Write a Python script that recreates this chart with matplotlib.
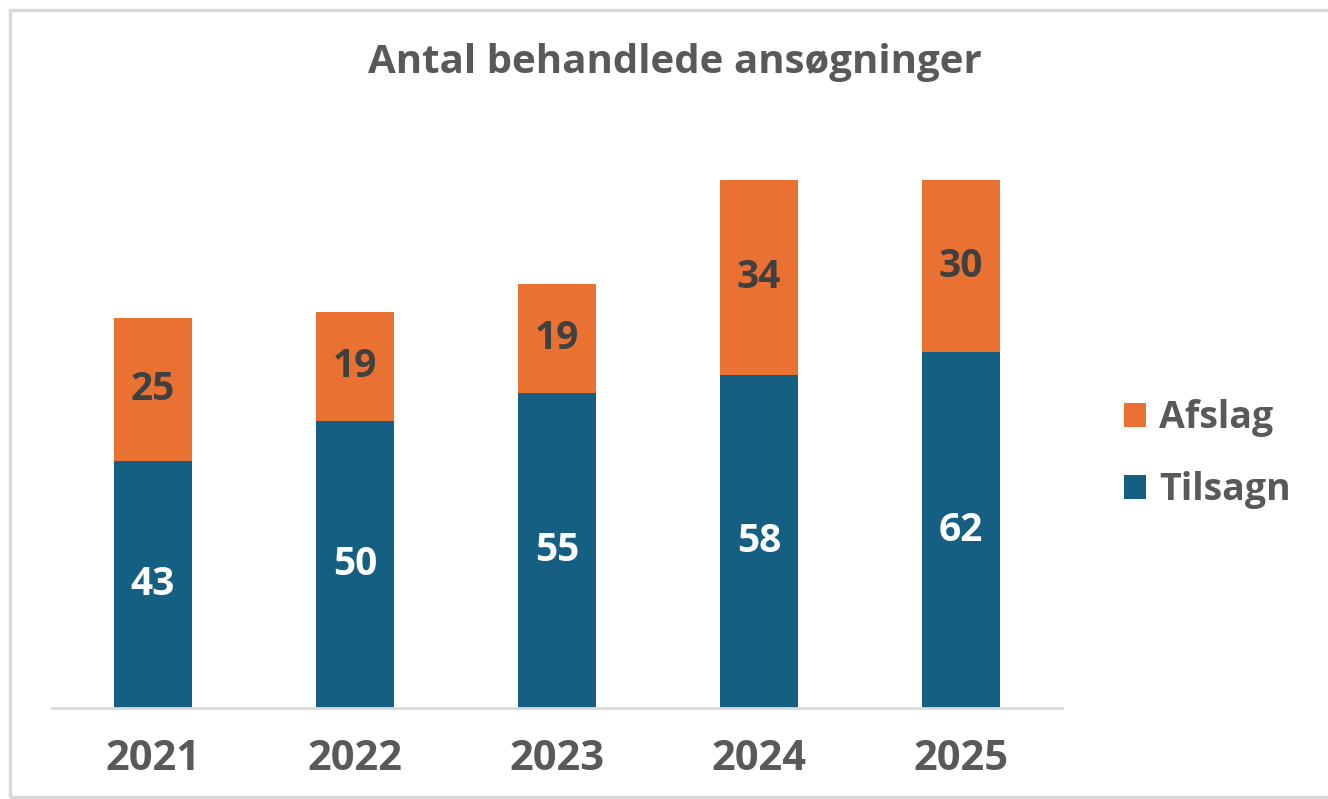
import matplotlib
matplotlib.use('Agg')
import matplotlib.pyplot as plt
import numpy as np
from matplotlib.patches import Rectangle

# Data
years = ['2021', '2022', '2023', '2024', '2025']
tilsagn = [43, 50, 55, 58, 62]
afslag = [25, 19, 19, 34, 30]

BLUE = '#156082'
ORANGE = '#E97132'
TEXT = '#595959'

plt.rcParams['font.family'] = ['Open Sans', 'DejaVu Sans']

fig = plt.figure(figsize=(13.28, 7.99), dpi=100)
ax = fig.add_axes([52 / 1328, 91 / 799, 1010 / 1328, 573.5 / 799])

x = np.arange(len(years))
width = 0.39
b1 = ax.bar(x, tilsagn, width, color=BLUE, label='Tilsagn')
b2 = ax.bar(x, afslag, width, bottom=tilsagn, color=ORANGE, label='Afslag')

# value labels centred in each segment
for i in range(len(years)):
    ax.text(x[i], tilsagn[i] / 2, str(tilsagn[i]), ha='center', va='center',
            color='white', fontsize=28, fontweight='bold')
    ax.text(x[i], tilsagn[i] + afslag[i] / 2, str(afslag[i]), ha='center', va='center',
            color='#404040', fontsize=28, fontweight='bold')

ax.set_xlim(-0.5, 4.5)
ax.set_ylim(0, 100)
ax.set_xticks(x)
ax.set_xticklabels(years, fontsize=30, fontweight='bold', color=TEXT)
ax.tick_params(axis='x', length=0, pad=22)
ax.set_yticks([])
for s in ['top', 'right', 'left']:
    ax.spines[s].set_visible(False)
ax.spines['bottom'].set_color('#D9D9D9')
ax.spines['bottom'].set_linewidth(2)

fig.text(675 / 1328, 1 - 63 / 799, 'Antal behandlede ansøgninger', ha='center', va='center',
         fontsize=29, fontweight='bold', color=TEXT)

handles = [b2, b1]
leg = fig.legend(handles, ['Afslag', 'Tilsagn'], loc='center left',
                 bbox_to_anchor=(1090 / 1328, 1 - 454 / 799), frameon=False,
                 fontsize=27, handlelength=0.6, handleheight=0.6, handletextpad=0.35,
                 labelspacing=0.9)
for t in leg.get_texts():
    t.set_color(TEXT)
    t.set_fontweight('bold')

# light outer frame
fig.patches.append(Rectangle((10 / 1328, 2 / 799), 1.2, 787 / 799, transform=fig.transFigure,
                             fill=False, edgecolor='#D9D9D9', linewidth=2.5))

fig.savefig('out.png', dpi=100)
